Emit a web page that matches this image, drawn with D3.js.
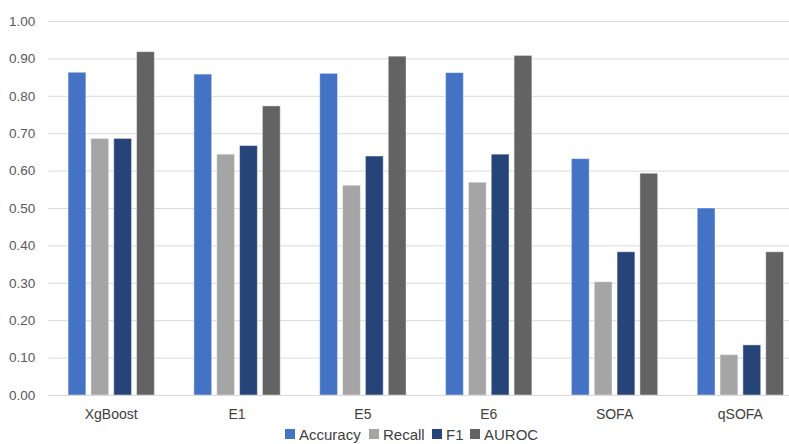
<!DOCTYPE html>
<html><head><meta charset="utf-8">
<script src="https://cdn.jsdelivr.net/npm/d3@7"></script>
<style>body{margin:0;background:#fff;overflow:hidden}text{font-family:"Liberation Sans",Arial,sans-serif}</style>
</head><body>
<svg id="c" width="789" height="444"></svg>
<script>
const categories = ["XgBoost","E1","E5","E6","SOFA","qSOFA"];
const seriesNames = ["Accuracy","Recall","F1","AUROC"];
const accuracy = [0.863,0.858,0.860,0.862,0.632,0.500];
const recall   = [0.686,0.644,0.561,0.569,0.303,0.108];
const f1       = [0.686,0.667,0.639,0.644,0.383,0.134];
const auroc    = [0.918,0.773,0.906,0.908,0.593,0.383];
const yTicks = [0,0.1,0.2,0.3,0.4,0.5,0.6,0.7,0.8,0.9,1.0];
const colors = ["#4472C4","#A5A5A5","#264478","#636363"];
const seriesValues = [accuracy, recall, f1, auroc];

const svg = d3.select("#c");
const x0 = d3.scaleBand().domain(categories).range([48.3, 803.3]).paddingInner(0.314).paddingOuter(0.157);
const x1 = d3.scaleBand().domain(seriesNames).range([0, x0.bandwidth()]).paddingInner(0.22).paddingOuter(0);
const y = d3.scaleLinear().domain([0,1]).range([395, 21]);

// gridlines
const yAxis = d3.axisLeft(y).tickValues(yTicks).tickFormat(d3.format(".2f")).tickSize(-760).tickPadding(13);
const ga = svg.append("g").attr("transform","translate(48.3,0)").call(yAxis);
ga.select(".domain").remove();
ga.selectAll(".tick line").attr("stroke","#d9d9d9").attr("stroke-width",1);
ga.selectAll(".tick text").attr("fill","#595959").style("font-size","13.5px");

// bars
const groups = svg.append("g").selectAll("g").data(categories).join("g")
  .attr("transform", d => `translate(${x0(d)},0)`);
groups.selectAll("rect").data((c,i) => seriesNames.map((s,j) => ({s, v: seriesValues[j][i], j})))
  .join("rect")
  .attr("x", d => x1(d.s))
  .attr("y", d => y(d.v))
  .attr("width", x1.bandwidth())
  .attr("height", d => y(0) - y(d.v))
  .attr("fill", d => colors[d.j])
  .attr("stroke", "rgba(255,255,255,0.45)")
  .attr("stroke-width", 1);

// x axis line
svg.append("line").attr("x1",48.3).attr("x2",789).attr("y1",395.5).attr("y2",395.5).attr("stroke","#d9d9d9");

// category labels
const xAxis = d3.axisBottom(x0).tickSize(0).tickPadding(0);
const gx = svg.append("g").attr("transform","translate(0,395)").call(xAxis);
gx.select(".domain").remove();
gx.selectAll(".tick text").attr("fill","#404040").style("font-size","14px").attr("dy","0").attr("y",24);

// legend
const legendX = [285, 369, 432, 470];
const lg = svg.append("g").selectAll("g").data(seriesNames).join("g")
  .attr("transform", (d,i) => `translate(${legendX[i]},0)`);
lg.append("rect").attr("x",0).attr("y",429).attr("width",10).attr("height",10).attr("fill",(d,i)=>colors[i]);
lg.append("text").attr("x",14).attr("y",439.5).text(d=>d).attr("fill","#404040").style("font-size","15px");
</script>
</body></html>
